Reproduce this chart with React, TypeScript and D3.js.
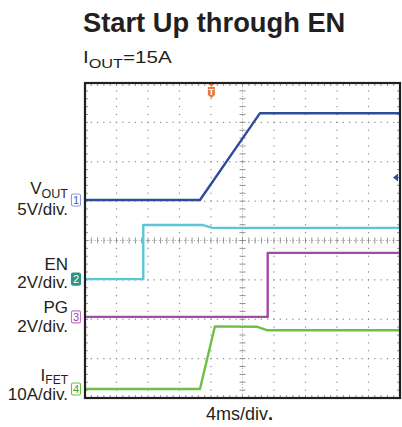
import React from 'react';
import * as d3 from 'd3';

// time base: 4 ms/div, 10 divisions
const timeDomain = [0, 40];

// VOUT, 5 V/div
const vOutTime = [0, 14.6, 22.2, 40];
const vOutVolts = [0, 0, 11, 11];

// EN, 2 V/div
const enTime = [0, 7.4, 7.4, 14.9, 16.2, 40];
const enVolts = [0, 0, 2.75, 2.75, 2.6, 2.6];

// PG, 2 V/div
const pgTime = [0, 23.2, 23.2, 40];
const pgVolts = [0, 0, 3.25, 3.25];

// IFET, 10 A/div
const iFetTime = [0, 14.6, 16.5, 21.8, 23.2, 40];
const iFetAmps = [0, 0, 15.9, 15.8, 14.9, 14.9];

const channels = [
  { id: '1', name: 'VOUT', perDiv: 5, offset: 1.03, color: '#2c4d9c', t: vOutTime, v: vOutVolts },
  { id: '2', name: 'EN', perDiv: 2, offset: -0.98, color: '#5cc6d2', t: enTime, v: enVolts },
  { id: '3', name: 'PG', perDiv: 2, offset: -1.94, color: '#a24aa8', t: pgTime, v: pgVolts },
  { id: '4', name: 'IFET', perDiv: 10, offset: -3.77, color: '#6dc046', t: iFetTime, v: iFetAmps },
];

const font = 'Liberation Sans, Arial, Helvetica, sans-serif';

const App: React.FC = () => {
  const width = 402;
  const height = 427;
  const plot = { left: 85, right: 400, top: 83, bottom: 398 };

  const x = d3.scaleLinear().domain(timeDomain).range([plot.left, plot.right]);
  const y = d3.scaleLinear().domain([-4, 4]).range([plot.bottom, plot.top]);

  const xDivs = d3.range(0, 10.001, 1).map((d) => x(d * 4));
  const yDivs = d3.range(-4, 4.001, 1).map((d) => y(d));
  const xMinor = d3.range(0, 50.001, 1).map((d) => x(d * 0.8));
  const yMinor = d3.range(-20, 20.001, 1).map((d) => y(d / 5));
  const cx = x(20);
  const cy = y(0);

  const dots: JSX.Element[] = [];
  xDivs.slice(1, -1).forEach((xv, i) => {
    if (i === 4) return;
    yMinor.forEach((yv, j) =>
      dots.push(<rect key={`v${i}-${j}`} x={xv - 0.6} y={yv - 0.6} width={1.2} height={1.2} fill="#8a8a8a" />),
    );
  });
  yDivs.slice(1, -1).forEach((yv, i) => {
    if (i === 3) return;
    xMinor.forEach((xv, j) =>
      dots.push(<rect key={`h${i}-${j}`} x={xv - 0.6} y={yv - 0.6} width={1.2} height={1.2} fill="#8a8a8a" />),
    );
  });

  const ticks: JSX.Element[] = [];
  xMinor.forEach((xv, j) => {
    ticks.push(<line key={`tc${j}`} x1={xv} x2={xv} y1={cy - 3} y2={cy + 3} stroke="#777" strokeWidth={0.8} />);
    ticks.push(<line key={`tt${j}`} x1={xv} x2={xv} y1={plot.top} y2={plot.top + 3} stroke="#777" strokeWidth={0.8} />);
    ticks.push(<line key={`tb${j}`} x1={xv} x2={xv} y1={plot.bottom - 3} y2={plot.bottom} stroke="#777" strokeWidth={0.8} />);
  });
  yMinor.forEach((yv, j) => {
    ticks.push(<line key={`rc${j}`} x1={cx - 3} x2={cx + 3} y1={yv} y2={yv} stroke="#777" strokeWidth={0.8} />);
    ticks.push(<line key={`rl${j}`} x1={plot.left} x2={plot.left + 3} y1={yv} y2={yv} stroke="#777" strokeWidth={0.8} />);
    ticks.push(<line key={`rr${j}`} x1={plot.right - 3} x2={plot.right} y1={yv} y2={yv} stroke="#777" strokeWidth={0.8} />);
  });

  const markerStyle: Record<string, { fill: string; stroke: string; text: string }> = {
    '1': { fill: '#fff', stroke: '#8e9ad8', text: '#4a5db4' },
    '2': { fill: '#2a948a', stroke: '#2a948a', text: '#fff' },
    '3': { fill: '#fff', stroke: '#c276c6', text: '#a040a6' },
    '4': { fill: '#fff', stroke: '#6dc046', text: '#4d9e2c' },
  };

  const labelX = 68;
  const trigX = x(16.05);
  const arrowY = y(1.6);

  return (
    <svg width={width} height={height} style={{ position: 'absolute', left: 0, top: 0, background: '#fff' }} fontFamily={font}>
      <text x={83} y={32} fontSize={27.3} fontWeight="bold" fill="#231f20">Start Up through EN</text>
      <text transform="translate(83,63) scale(1.25,1)" fontSize={16.5} fill="#231f20">
        I<tspan dy={5} fontSize={13}>OUT</tspan><tspan dy={-5}>=15A</tspan>
      </text>

      <g>{dots}</g>
      <line x1={cx} x2={cx} y1={plot.top} y2={plot.bottom} stroke="#999" strokeWidth={0.8} strokeDasharray="1.2,2" />
      <line x1={plot.left} x2={plot.right} y1={cy} y2={cy} stroke="#999" strokeWidth={0.8} strokeDasharray="1.2,2" />
      <g>{ticks}</g>

      {channels.map((c) => {
        const pts = c.t.map((t, i) => [t, c.v[i]] as [number, number]);
        const line = d3
          .line<[number, number]>()
          .x((d) => x(d[0]))
          .y((d) => y(c.offset + d[1] / c.perDiv));
        return <path key={c.id} d={line(pts) || ''} fill="none" stroke={c.color} strokeWidth={2.4} strokeLinejoin="round" />;
      })}

      <rect x={plot.left} y={plot.top} width={plot.right - plot.left} height={plot.bottom - plot.top} fill="none" stroke="#231f20" strokeWidth={2.2} />

      {channels.map((c) => {
        const s = markerStyle[c.id];
        const yy = y(c.offset);
        return (
          <g key={`m${c.id}`}>
            <rect x={71.5} y={yy - 6} width={9} height={12} rx={1.5} fill={s.fill} stroke={s.stroke} strokeWidth={1.1} />
            <text x={76} y={yy + 4} fontSize={11} textAnchor="middle" fill={s.text}>{c.id}</text>
          </g>
        );
      })}

      {/* trigger marker */}
      <path d={`M${trigX - 3},${plot.top + 1} L${trigX + 3},${plot.top + 1} L${trigX},${plot.top + 4} Z`} fill="#e8793a" />
      <path
        d={`M${trigX - 3.5},${plot.top + 4} H${trigX + 3.5} V${plot.top + 12} L${trigX},${plot.top + 15} L${trigX - 3.5},${plot.top + 12} Z`}
        fill="#e8793a"
      />
      <text x={trigX} y={plot.top + 12} fontSize={8.5} fontWeight="bold" textAnchor="middle" fill="#fff">T</text>

      {/* VOUT reference arrow */}
      <path d={`M${plot.right - 7},${arrowY} L${plot.right - 2},${arrowY - 4} L${plot.right - 2},${arrowY + 4} Z`} fill="#2c4d9c" />

      <g fontSize={17} fill="#231f20" textAnchor="end">
        <text x={labelX} y={194}>V<tspan dy={3.5} fontSize={12.5}>OUT</tspan></text>
        <text x={labelX} y={215}>5V/div.</text>
        <text x={labelX} y={270}>EN</text>
        <text x={labelX} y={288}>2V/div.</text>
        <text x={labelX} y={313}>PG</text>
        <text x={labelX} y={332}>2V/div.</text>
        <text x={labelX} y={381}>I<tspan dy={2.5} fontSize={12}>FET</tspan></text>
        <text x={labelX} y={400}>10A/div.</text>
      </g>

      <text x={206} y={420} fontSize={18} fill="#231f20">4ms/div<tspan fontWeight="bold">.</tspan></text>
    </svg>
  );
};

export default App;
